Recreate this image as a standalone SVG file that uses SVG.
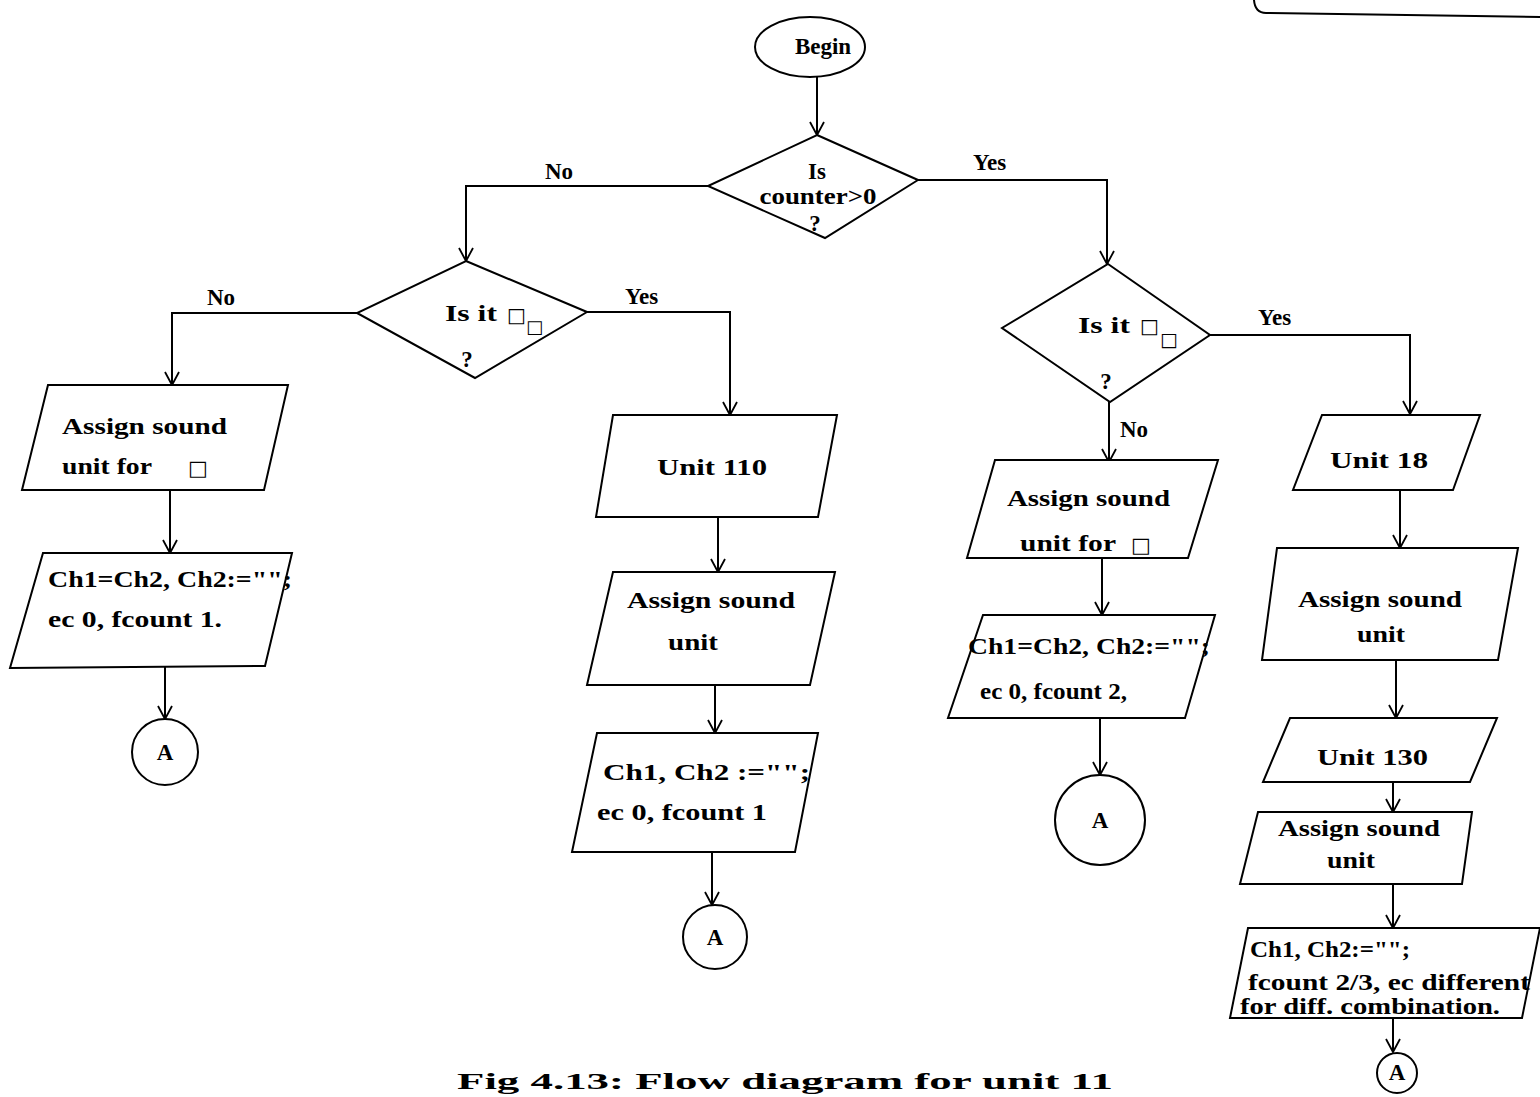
<svg xmlns="http://www.w3.org/2000/svg" width="1540" height="1097" viewBox="0 0 1540 1097">
<defs>
<marker id="arr" markerUnits="userSpaceOnUse" markerWidth="16" markerHeight="18" refX="14" refY="8" orient="auto">
<path d="M1,1 L14,8 L1,15" fill="none" stroke="#000" stroke-width="1.8"/>
</marker>
<style>
.s{fill:#fff;stroke:#000;stroke-width:2}
.c{fill:none;stroke:#000;stroke-width:2}
.t{font-family:"Liberation Serif","Times New Roman",serif;font-weight:bold;font-size:23px;fill:#000}
.m{text-anchor:middle}
.g{font-family:"DejaVu Sans",sans-serif;font-weight:normal;fill:#000}
</style>
</defs>
<rect width="1540" height="1097" fill="#fff"/>
<path class="c" d="M1254,0 Q1255,13 1266,13 L1540,17"/>

<g id="connectors">
<path class="c" d="M817,77 L817,135" marker-end="url(#arr)"/>
<path class="c" d="M918,180 L1107,180 L1107,264" marker-end="url(#arr)"/>
<path class="c" d="M708,186 L466,186 L466,261" marker-end="url(#arr)"/>
<path class="c" d="M357,313 L172,313 L172,385" marker-end="url(#arr)"/>
<path class="c" d="M587,312 L730,312 L730,415" marker-end="url(#arr)"/>
<path class="c" d="M1210,335 L1410,335 L1410,414" marker-end="url(#arr)"/>
<path class="c" d="M1109,402 L1109,462" marker-end="url(#arr)"/>
<path class="c" d="M170,490 L170,553" marker-end="url(#arr)"/>
<path class="c" d="M165,666 L165,719" marker-end="url(#arr)"/>
<path class="c" d="M718,517 L718,572" marker-end="url(#arr)"/>
<path class="c" d="M715,685 L715,733" marker-end="url(#arr)"/>
<path class="c" d="M712,852 L712,905" marker-end="url(#arr)"/>
<path class="c" d="M1102,558 L1102,615" marker-end="url(#arr)"/>
<path class="c" d="M1100,718 L1100,775" marker-end="url(#arr)"/>
<path class="c" d="M1400,490 L1400,548" marker-end="url(#arr)"/>
<path class="c" d="M1396,660 L1396,718" marker-end="url(#arr)"/>
<path class="c" d="M1393,782 L1393,812" marker-end="url(#arr)"/>
<path class="c" d="M1393,884 L1393,928" marker-end="url(#arr)"/>
<path class="c" d="M1393,1018 L1393,1052" marker-end="url(#arr)"/>
<text class="t" x="545" y="179">No</text>
<text class="t" x="973" y="170">Yes</text>
<text class="t" x="207" y="305">No</text>
<text class="t" x="625" y="304">Yes</text>
<text class="t" x="1258" y="325">Yes</text>
<text class="t" x="1120" y="437">No</text>
</g>

<g id="begin">
<ellipse class="s" cx="810" cy="47" rx="55" ry="30"/>
<text class="t m" x="823" y="54">Begin</text>
</g>

<g id="d-counter">
<path class="s" d="M817,135 L918,180 L825,238 L708,186 Z"/>
<text class="t m" x="817" y="179">Is</text>
<text class="t m" x="818" y="204" textLength="117" lengthAdjust="spacingAndGlyphs">counter&gt;0</text>
<text class="t m" x="815" y="231">?</text>
</g>

<g id="d-left">
<path class="s" d="M466,261 L587,312 L475,378 L357,313 Z"/>
<text class="t" x="445" y="321" textLength="52" lengthAdjust="spacingAndGlyphs">Is it</text>
<text class="g" x="507" y="322" font-size="20">□</text>
<text class="g" x="526" y="333" font-size="18">□</text>
<text class="t m" x="467" y="367">?</text>
</g>

<g id="d-right">
<path class="s" d="M1108,264 L1210,335 L1110,402 L1002,328 Z"/>
<text class="t" x="1078" y="333" textLength="52" lengthAdjust="spacingAndGlyphs">Is it</text>
<text class="g" x="1140" y="333" font-size="20">□</text>
<text class="g" x="1160" y="346" font-size="19">□</text>
<text class="t m" x="1106" y="389">?</text>
</g>

<g id="l-assign">
<path class="s" d="M48,385 L288,385 L264,490 L22,490 Z"/>
<text class="t" x="62" y="434" textLength="165" lengthAdjust="spacingAndGlyphs">Assign sound</text>
<text class="t" x="62" y="474" textLength="90" lengthAdjust="spacingAndGlyphs">unit for</text>
<text class="g" x="188" y="475" font-size="21">□</text>
</g>

<g id="l-ch">
<path class="s" d="M43,553 L292,553 L265,666 L10,668 Z"/>
<text class="t" x="48" y="587" textLength="244" lengthAdjust="spacingAndGlyphs">Ch1=Ch2, Ch2:="";</text>
<text class="t" x="48" y="627" textLength="174" lengthAdjust="spacingAndGlyphs">ec 0, fcount 1.</text>
</g>

<g id="l-a">
<circle class="s" cx="165" cy="752" r="33"/>
<text class="t m" x="165" y="760" font-size="21">A</text>
</g>

<g id="m-unit110">
<path class="s" d="M613,415 L837,415 L818,517 L596,517 Z"/>
<text class="t" x="657" y="475" textLength="110" lengthAdjust="spacingAndGlyphs">Unit 110</text>
</g>

<g id="m-assign">
<path class="s" d="M613,572 L835,572 L810,685 L587,685 Z"/>
<text class="t" x="627" y="608" textLength="168" lengthAdjust="spacingAndGlyphs">Assign sound</text>
<text class="t" x="668" y="650" textLength="50" lengthAdjust="spacingAndGlyphs">unit</text>
</g>

<g id="m-ch">
<path class="s" d="M597,733 L818,733 L795,852 L572,852 Z"/>
<text class="t" x="603" y="780" textLength="207" lengthAdjust="spacingAndGlyphs">Ch1, Ch2 :="";</text>
<text class="t" x="597" y="820" textLength="170" lengthAdjust="spacingAndGlyphs">ec 0, fcount 1</text>
</g>

<g id="m-a">
<circle class="s" cx="715" cy="937" r="32"/>
<text class="t m" x="715" y="945" font-size="21">A</text>
</g>

<g id="r-assign">
<path class="s" d="M995,460 L1218,460 L1188,558 L967,558 Z"/>
<text class="t" x="1007" y="506" textLength="163" lengthAdjust="spacingAndGlyphs">Assign sound</text>
<text class="t" x="1020" y="551" textLength="96" lengthAdjust="spacingAndGlyphs">unit for</text>
<text class="g" x="1131" y="552" font-size="21">□</text>
</g>

<g id="r-ch">
<path class="s" d="M983,615 L1215,615 L1185,718 L948,718 Z"/>
<text class="t" x="968" y="654" textLength="242" lengthAdjust="spacingAndGlyphs">Ch1=Ch2, Ch2:="";</text>
<text class="t" x="980" y="699" textLength="147" lengthAdjust="spacingAndGlyphs">ec 0, fcount 2,</text>
</g>

<g id="r-a">
<circle class="s" cx="1100" cy="820" r="45"/>
<text class="t m" x="1100" y="828" font-size="21">A</text>
</g>

<g id="rr-unit18">
<path class="s" d="M1322,415 L1480,415 L1453,490 L1293,490 Z"/>
<text class="t" x="1330" y="468" textLength="98" lengthAdjust="spacingAndGlyphs">Unit 18</text>
</g>

<g id="rr-assign">
<path class="s" d="M1277,548 L1518,548 L1498,660 L1262,660 Z"/>
<text class="t" x="1298" y="607" textLength="164" lengthAdjust="spacingAndGlyphs">Assign sound</text>
<text class="t" x="1357" y="642" textLength="48" lengthAdjust="spacingAndGlyphs">unit</text>
</g>

<g id="rr-unit130">
<path class="s" d="M1290,718 L1497,718 L1470,782 L1263,782 Z"/>
<text class="t" x="1317" y="765" textLength="111" lengthAdjust="spacingAndGlyphs">Unit 130</text>
</g>

<g id="rr-assign2">
<path class="s" d="M1258,812 L1472,812 L1462,884 L1240,884 Z"/>
<text class="t" x="1278" y="836" textLength="162" lengthAdjust="spacingAndGlyphs">Assign sound</text>
<text class="t" x="1327" y="868" textLength="48" lengthAdjust="spacingAndGlyphs">unit</text>
</g>

<g id="rr-ch">
<path class="s" d="M1248,928 L1540,928 L1522,1018 L1230,1018 Z"/>
<text class="t" x="1250" y="957" font-size="21" textLength="160" lengthAdjust="spacingAndGlyphs">Ch1, Ch2:="";</text>
<text class="t" x="1248" y="990" font-size="21" textLength="282" lengthAdjust="spacingAndGlyphs">fcount 2/3, ec different</text>
<text class="t" x="1240" y="1014" font-size="21" textLength="260" lengthAdjust="spacingAndGlyphs">for diff. combination.</text>
</g>

<g id="rr-a">
<circle class="s" cx="1397" cy="1073" r="20"/>
<text class="t m" x="1397" y="1080" font-size="19">A</text>
</g>

<text class="t" x="457" y="1089" font-size="32" textLength="656" lengthAdjust="spacingAndGlyphs">Fig 4.13: Flow diagram for unit 11</text>
</svg>
